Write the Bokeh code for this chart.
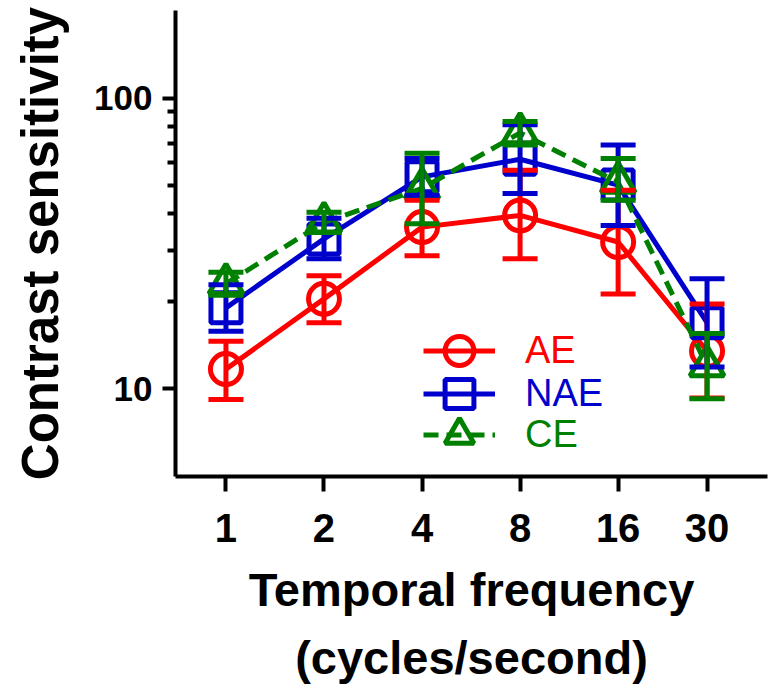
from bokeh.plotting import figure
from bokeh.models import (ColumnDataSource, FixedTicker, PrintfTickFormatter, Whisker,
                          TeeHead, Legend, LegendItem, Range1d)
from bokeh.embed import file_html
from bokeh.resources import INLINE

# ---- data ----
freqs = [1, 2, 4, 8, 16, 30]
tick_labels = ["1", "2", "4", "8", "16", "30"]

ae_mean = [11.7, 20.4, 36.0, 39.5, 32.0, 13.5]
ae_lower = [9.2, 16.9, 28.7, 28.0, 21.2, 9.3]
ae_upper = [14.6, 24.5, 44.5, 56.5, 48.2, 19.6]

nae_mean = [19.0, 32.8, 53.6, 61.6, 50.2, 16.9]
nae_lower = [15.8, 28.0, 46.3, 47.0, 36.5, 11.9]
nae_upper = [22.8, 38.6, 62.0, 80.9, 69.0, 23.9]

ce_mean = [23.0, 37.4, 48.9, 75.9, 51.3, 12.0]
ce_lower = [21.0, 34.5, 37.0, 69.0, 44.5, 9.26]
ce_upper = [25.2, 40.5, 64.6, 83.0, 62.0, 15.5]

y_major = [10, 100]
y_minor = [20, 30, 40, 50, 60, 70, 80, 90]

x_title = "Temporal frequency\n(cycles/second)"
y_title = "Contrast sensitivity"

series = [
    ("AE", ae_mean, ae_lower, ae_upper, "#FF0000", "circle", "solid", 31),
    ("NAE", nae_mean, nae_lower, nae_upper, "#0000CC", "square", "solid", 30),
    ("CE", ce_mean, ce_lower, ce_upper, "#008000", "triangle", "15 8", 34),
]

FONT = "Liberation Sans"

p = figure(width=777, height=691, x_axis_type="log", y_axis_type="log",
           x_range=Range1d(0.7, 46), y_range=Range1d(5, 200),
           output_backend="svg", toolbar_location=None,
           min_border_left=175, min_border_right=10, min_border_top=10, min_border_bottom=215)
p.outline_line_color = None
p.xgrid.visible = False
p.ygrid.visible = False
p.background_fill_color = "white"
p.border_fill_color = "white"

# axes
for ax in (p.xaxis[0], p.yaxis[0]):
    ax.axis_line_width = 4
    ax.axis_line_color = "black"
    ax.major_tick_line_width = 4
    ax.minor_tick_line_width = 4
    ax.major_tick_in = 0
    ax.minor_tick_in = 0
    ax.major_label_text_font = FONT
    ax.major_label_text_font_style = "bold"
    ax.major_label_text_color = "black"
    ax.axis_label_text_font = FONT
    ax.axis_label_text_font_style = "bold"
    ax.axis_label_text_color = "black"

p.yaxis.ticker = FixedTicker(ticks=y_major, minor_ticks=y_minor)
p.yaxis.formatter = PrintfTickFormatter(format="%d")
p.yaxis.major_tick_out = 13
p.yaxis.minor_tick_out = 8
p.yaxis.major_label_standoff = 10
p.yaxis.major_label_text_font_size = "35px"
p.yaxis.axis_label = y_title
p.yaxis.axis_label_text_font_size = "51px"
p.yaxis.axis_label_standoff = 22

p.xaxis.ticker = FixedTicker(ticks=freqs, minor_ticks=[])
p.xaxis.major_label_overrides = {f: t for f, t in zip(freqs, tick_labels)}
p.xaxis.major_tick_out = 15
p.xaxis.minor_tick_out = 0
p.xaxis.major_label_standoff = 22
p.xaxis.major_label_text_font_size = "40px"
p.xaxis.axis_label = x_title
p.xaxis.axis_label_text_font_size = "47px"
p.xaxis.axis_label_text_line_height = 1.3
p.xaxis.axis_label_standoff = 18

legend_y = [88, 45, 4]

for (name, mean, lower, upper, color, marker, dash, msize), ly in zip(series, legend_y):
    src = ColumnDataSource(dict(x=freqs, y=mean, lower=lower, upper=upper))
    w = Whisker(base="x", upper="upper", lower="lower", source=src,
                line_color=color, line_width=5, level="glyph",
                upper_head=TeeHead(size=35, line_color=color, line_width=5),
                lower_head=TeeHead(size=35, line_color=color, line_width=5))
    p.add_layout(w)
    lr = p.line("x", "y", source=src, line_color=color, line_width=5, line_dash=dash)
    sr = p.scatter("x", "y", source=src, marker=marker, size=msize,
                   fill_color=None, line_color=color, line_width=5)
    leg = Legend(items=[LegendItem(label=name, renderers=[lr, sr])],
                 location=(248, ly), padding=0, margin=0, spacing=0,
                 border_line_color=None, background_fill_alpha=0,
                 glyph_width=72, glyph_height=75, label_standoff=30,
                 label_text_font=FONT, label_text_font_size="38px",
                 label_text_color=color, label_height=35)
    p.add_layout(leg, "center")

open("out.html", "w").write(file_html(p, INLINE))
